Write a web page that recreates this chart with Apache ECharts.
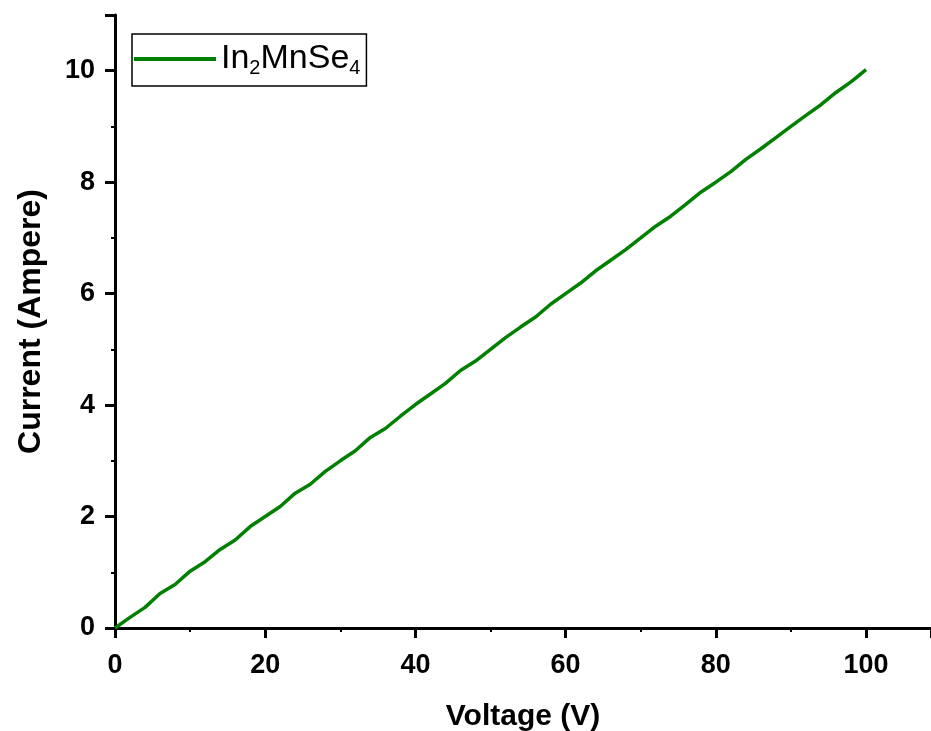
<!DOCTYPE html>
<html><head><meta charset="utf-8">
<script src="https://cdn.jsdelivr.net/npm/echarts@6/dist/echarts.min.js"></script>
<style>html,body{margin:0;padding:0;background:#fff}#c{width:931px;height:731px}</style>
</head><body><div id="c"></div>
<script>
const voltage = [0,2,4,6,8,10,12,14,16,18,20,22,24,26,28,30,32,34,36,38,40,42,44,46,48,50,52,54,56,58,60,62,64,66,68,70,72,74,76,78,80,82,84,86,88,90,92,94,96,98,100];
const current = [0,0.19,0.37,0.62,0.78,1.02,1.19,1.41,1.58,1.82,2.0,2.18,2.42,2.58,2.81,3.0,3.18,3.42,3.58,3.8,4.01,4.2,4.39,4.62,4.79,5.0,5.21,5.4,5.58,5.81,6.0,6.19,6.41,6.6,6.79,7.0,7.21,7.39,7.6,7.82,8.0,8.19,8.41,8.6,8.8,9.0,9.2,9.39,9.61,9.8,10.02];
const xTicks = [0,20,40,60,80,100];
const yTicks = [0,2,4,6,8,10];
const seriesName = 'In₂MnSe₄';

const chart = echarts.init(document.getElementById('c'), null, {renderer:'canvas'});
const FF = 'Liberation Sans, Arial, sans-serif';
const lblFont = {fontFamily:FF, fontWeight:'bold', fontSize:27, color:'#000'};
chart.setOption({
  animation:false,
  backgroundColor:'#fff',
  grid:{left:115, top:15, right:0, bottom:103, containLabel:false, outerBoundsMode:'none'},
  legend:{
    show:true, left:132, top:34, orient:'vertical',
    borderColor:'#000', borderWidth:1.5, padding:[8,6,8,2],
    itemWidth:82, itemHeight:10, itemGap:4,
    icon:'path://M0,0 L80,0 L80,4 L0,4 Z',
    formatter: () => '{a|In}{s|2}{a|MnSe}{s|4}',
    textStyle:{rich:{
      a:{fontFamily:FF, fontSize:34, color:'#000'},
      s:{fontFamily:FF, fontSize:20, color:'#000', verticalAlign:'bottom', padding:[18,0,0,0]}
    }}
  },
  xAxis:[{
    type:'value', min:0, max:108.65, interval:20,
    name:'Voltage (V)', nameLocation:'middle', nameGap:74,
    nameTextStyle:{fontFamily:FF, fontWeight:'bold', fontSize:30, color:'#000'},
    axisLine:{show:true, onZero:false, lineStyle:{color:'#000', width:3}},
    axisTick:{show:true, inside:false, length:10, lineStyle:{color:'#000', width:3}},
    minorTick:{show:true, splitNumber:2, length:4, lineStyle:{color:'#000', width:2}},
    axisLabel:{...lblFont, margin:24, showMaxLabel:false, formatter:v => xTicks.includes(v) ? String(v) : ''},
    splitLine:{show:false}
  },{
    type:'value', position:'top', min:0, max:108.65,
    axisLine:{show:true, lineStyle:{color:'#000', width:3}},
    axisTick:{show:false}, axisLabel:{show:false}, splitLine:{show:false}
  }],
  yAxis:{
    type:'value', min:0, max:11, interval:2,
    name:'Current (Ampere)', nameLocation:'middle', nameGap:68, nameRotate:90,
    nameTextStyle:{fontFamily:FF, fontWeight:'bold', fontSize:32, color:'#000'},
    axisLine:{show:true, onZero:false, lineStyle:{color:'#000', width:3}},
    axisTick:{show:true, inside:false, length:10, lineStyle:{color:'#000', width:3}},
    minorTick:{show:true, splitNumber:2, length:4, lineStyle:{color:'#000', width:2}},
    axisLabel:{...lblFont, margin:20, formatter:v => yTicks.includes(v) ? String(v) : ''},
    splitLine:{show:false}
  },
  series:[{
    name:seriesName, type:'line', xAxisIndex:0,
    data: voltage.map((v,i)=>[v,current[i]]),
    showSymbol:false, smooth:false,
    lineStyle:{color:'#008000', width:3.5},
    itemStyle:{color:'#008000'}
  }]
});
</script></body></html>
